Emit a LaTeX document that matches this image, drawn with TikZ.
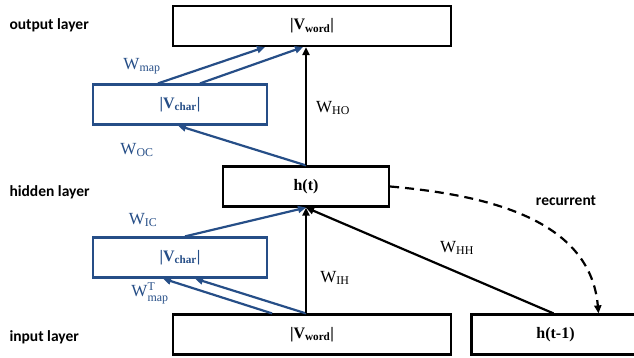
\documentclass[tikz,border=0pt]{standalone}
\usepackage{amsmath}
\usepackage{fontspec}
\setmainfont{Liberation Serif}
\newfontfamily\layerfont{Carlito}
\usetikzlibrary{arrows.meta,positioning}
\definecolor{rnnblue}{RGB}{38,78,135}

\begin{document}
\begin{tikzpicture}[x=1pt, y=-1pt,
    box/.style={draw, line width=2.2pt, minimum height=40pt, inner sep=0pt,
        font=\fontsize{16}{17}\selectfont\bfseries},
    cbox/.style={box, draw=rnnblue, text=rnnblue},
    conn/.style={line width=2.2pt, -{Triangle[length=8pt,width=7pt]}},
    cconn/.style={conn, rnnblue},
    sanslab/.style={font=\layerfont\fontsize{15.5}{17}\selectfont\bfseries},
    layer/.style={sanslab, anchor=west},
    wlab/.style={font=\fontsize{17}{18}\selectfont}]
    \useasboundingbox (0,0) rectangle (634,358);

    % Layer names
    \node[layer] (outlayer) at (6,25) {output layer};
    \node[layer] (hidlayer) at (6,192) {hidden layer};
    \node[layer] (inlayer) at (6,337) {input layer};

    % Boxes
    \node[box, minimum width=278] (outword) at (312,26) {|V\textsubscript{word}|};
    \node[cbox, minimum width=174] (vc1) at (180,104.5) {|V\textsubscript{char}|};
    \node[box, minimum width=166] (hid) at (306,186.5) {h(t)};
    \node[cbox, minimum width=174] (vc2) at (180,257.5) {|V\textsubscript{char}|};
    \node[box, minimum width=278] (inword) at (312,334.5) {|V\textsubscript{word}|};
    \node[box, minimum width=168] (hm1) at (555.5,334.5) {h(t-1)};
    \coordinate (wtip) at (hid.north |- outword.south);

    % Character-level connections
    \draw[cconn] ([xshift=-22pt]vc1.north) -- ([xshift=-47pt]outword.south);
    \draw[cconn] ([xshift=20pt]vc1.north) -- ([xshift=-3pt]wtip);
    \draw[cconn] (hid.north) -- ([xshift=-2pt]vc1.south);
    \draw[cconn] ([xshift=5pt]vc2.north) -- (hid.south);
    \draw[cconn] ([xshift=-40pt]inword.north) -- ([xshift=-17pt]vc2.south);
    \draw[cconn] (inword.north -| hid.south) -- ([xshift=15pt]vc2.south);

    % Word-level connections
    \draw[conn] (hid.north) -- (wtip);
    \draw[conn] (inword.north -| hid.south) -- (hid.south);
    \draw[conn] ([xshift=-2pt]hm1.north) -- (hid.south);
    \draw[conn, dash pattern=on 9pt off 6pt] (hid.east) to[out=-5, in=95] ([xshift=43pt]hm1.north);

    % Weights
    \node[wlab, text=rnnblue] (wmap) at (142,66) {W\textsubscript{map}};
    \node[wlab, text=rnnblue] (woc) at (137,150) {W\textsubscript{OC}};
    \node[wlab] (who) at (333,108) {W\textsubscript{HO}};
    \node[wlab, text=rnnblue] (wic) at (143,220) {W\textsubscript{IC}};
    \node[wlab, text=rnnblue] (wmapt) at (150,293) {$\text{W}^{\text{T}}_{\text{map}}$};
    \node[wlab] (wih) at (335,278) {W\textsubscript{IH}};
    \node[wlab] (whh) at (457,248) {W\textsubscript{HH}};
    \node[sanslab] (rec) at (566,201) {recurrent};
\end{tikzpicture}
\end{document}
